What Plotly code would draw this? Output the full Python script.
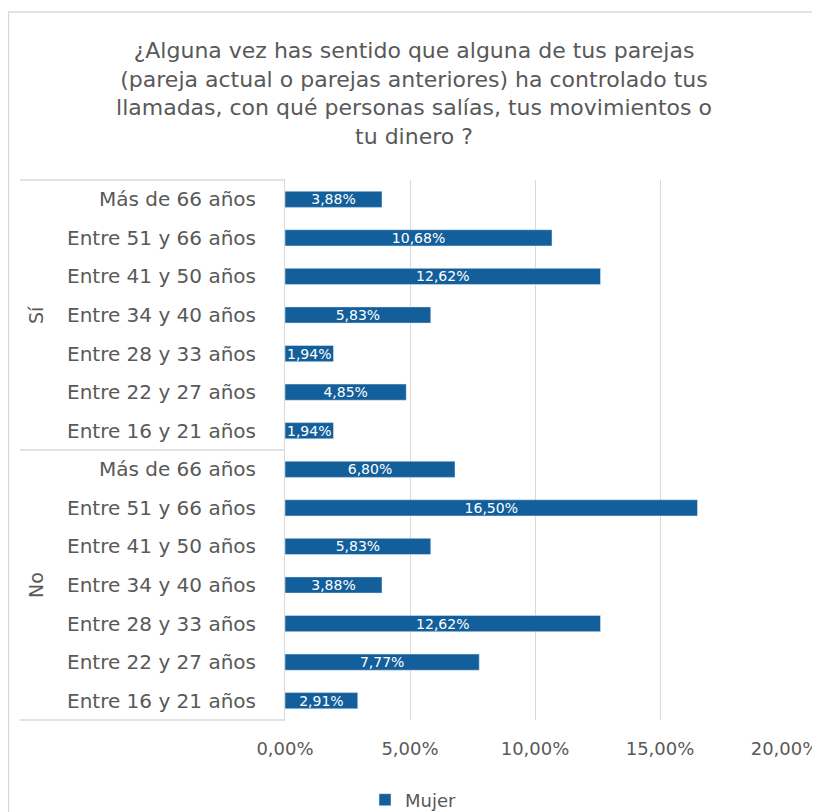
import plotly.graph_objects as go

TITLE = ("¿Alguna vez has sentido que alguna de tus parejas<br>"
         "(pareja actual o parejas anteriores) ha controlado tus<br>"
         "llamadas, con qué personas salías, tus movimientos o<br>"
         "tu dinero ?")

groups = ["Sí", "No"]
ages = ["Más de 66 años", "Entre 51 y 66 años", "Entre 41 y 50 años",
        "Entre 34 y 40 años", "Entre 28 y 33 años", "Entre 22 y 27 años",
        "Entre 16 y 21 años"]
si_values = [0.0388, 0.1068, 0.1262, 0.0583, 0.0194, 0.0485, 0.0194]
no_values = [0.0680, 0.1650, 0.0583, 0.0388, 0.1262, 0.0777, 0.0291]
x_ticks = [0, 0.05, 0.10, 0.15, 0.20]

FONT = "DejaVu Sans"
GREY = "#595959"
BLUE = "#135f9b"
LINE = "#d9d9d9"

keys = [f"{g}|{a}" for g in groups for a in ages]
labels = ages + ages
values = si_values + no_values

fig = go.Figure(go.Bar(
    x=values, y=keys, orientation="h", name="Mujer",
    marker=dict(color=BLUE),
    texttemplate="%{x:.2%}", textposition="inside",
    insidetextanchor="middle", constraintext="none",
    textfont=dict(color="white", size=14, family=FONT),
))

# the page body adds an 8px offset; figure is 812x804
FW, FH = 812, 804
L, R, T, B = 277, 35, 172, 92
W, H = FW - L - R, FH - T - B


def px(x):
    return (x - L) / W


def py(y):
    return (FH - B - y) / H


fig.update_layout(
    width=FW, height=FH,
    margin=dict(l=L, r=R, t=T, b=B, autoexpand=False),
    paper_bgcolor="white", plot_bgcolor="white",
    separators=",.",
    bargap=0.58,
    showlegend=True,
    font=dict(family=FONT, color=GREY),
    title=dict(text=TITLE, x=0.5, xref="container", xanchor="center",
               y=1 - 50 / FH, yanchor="top",
               font=dict(size=22, color=GREY, family=FONT)),
    legend=dict(orientation="h", x=px(357), xanchor="left",
                y=py(792), yanchor="middle",
                font=dict(size=18, color=GREY), itemwidth=30),
    xaxis=dict(range=[0, 0.20], tickvals=x_ticks, tickformat=".2%",
               showgrid=True, gridcolor=LINE, automargin=False,
               gridwidth=1, zeroline=False, showline=False,
               tickfont=dict(size=18, color=GREY), ticklabelstandoff=16),
    yaxis=dict(autorange="reversed", tickvals=keys, ticktext=labels,
               showgrid=False, showline=True, linecolor=LINE,
               automargin=False,
               tickfont=dict(size=20, color=GREY), ticklabelstandoff=24),
)

# category-axis dividers and outer frame
shapes = [
    dict(type="rect", xref="paper", yref="paper", x0=px(0.5), x1=px(840),
         y0=py(840), y1=py(4),
         line=dict(color=LINE, width=1.5), layer="below"),
]
for yy in [0, 0.5, 1]:
    shapes.append(dict(type="line", xref="paper", yref="paper",
                       x0=px(12), x1=0, y0=yy, y1=yy,
                       line=dict(color=LINE, width=1.5)))
fig.update_layout(shapes=shapes)

for i, g in enumerate(groups):
    fig.add_annotation(text=g, xref="paper", yref="paper", x=px(28),
                       xanchor="center", yanchor="middle",
                       y=0.75 - 0.5 * i, textangle=-90, showarrow=False,
                       font=dict(size=19, color=GREY, family=FONT))

fig.write_html("out.html")
